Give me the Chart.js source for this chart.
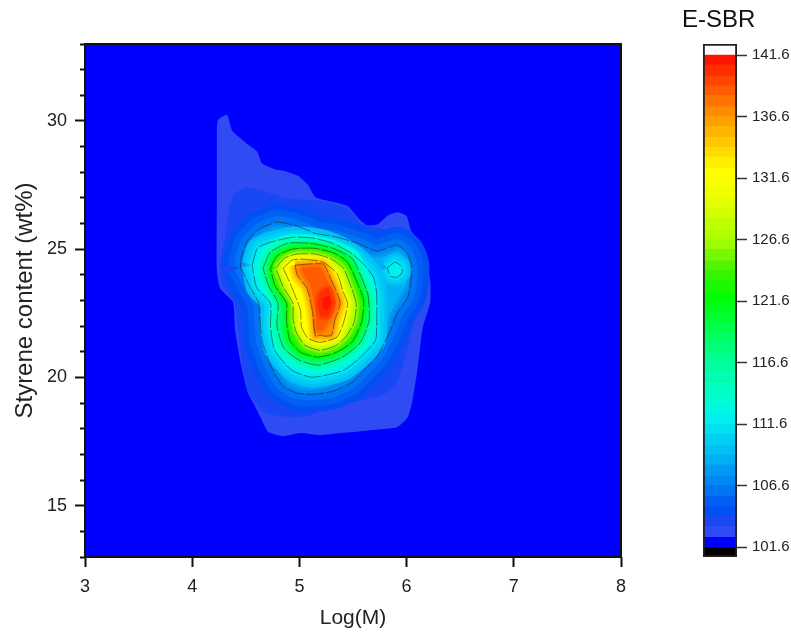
<!DOCTYPE html>
<html>
<head>
<meta charset="utf-8">
<title>E-SBR</title>
<script src="https://cdn.jsdelivr.net/npm/chart.js"></script>
<style>
    html, body { margin: 0; padding: 0; background: #fff; }
    #wrap { position: relative; width: 791px; height: 635px; overflow: hidden; }
    canvas { position: absolute; top: 0; }
    #main { left: 0; }
    #bar { left: 701px; }
    #barTitle { position: absolute; left: 682px; top: 5px; font: 24px "Liberation Sans", sans-serif; color: #111; }
</style>
</head>
<body>
<div id="wrap">
    <canvas id="main" width="791" height="635"></canvas>
    <canvas id="bar" width="90" height="635"></canvas>
    <div id="barTitle">E-SBR</div>
</div>
<script>
var xTicks = [3, 4, 5, 6, 7, 8];
var yTicks = [15, 20, 25, 30];
var yMinorTicks = [13, 14, 15, 16, 17, 18, 19, 20, 21, 22, 23, 24, 25, 26, 27, 28, 29, 30, 31, 32, 33];
var barTicks = [101.6, 106.6, 111.6, 116.6, 121.6, 126.6, 131.6, 136.6, 141.6];

// 色の段（カラーバーから読んだ値）
var bandLevels = [101.6, 102.4, 103.3, 104.1, 104.9, 105.8, 106.6, 107.4, 108.3, 109.1, 109.9, 110.8,
    111.6, 112.4, 113.3, 114.1, 114.9, 115.8, 116.6, 117.4, 118.3, 119.1, 119.9, 120.8,
    121.6, 122.4, 123.3, 124.1, 124.9, 125.8, 126.6, 127.4, 128.3, 129.1, 129.9, 130.8,
    131.6, 132.4, 133.3, 134.1, 134.9, 135.8, 136.6, 137.4, 138.3, 139.1, 139.9, 140.8, 141.6];
var bandColors = ["#0000ff", "#2f4bf4", "#1848f4", "#0050f4", "#0060f4", "#0074f4", "#0088f4", "#009cf4", "#00b0f4", "#00c0f4", "#00d0f4", "#00e0f2",
    "#00f0f0", "#00f8e0", "#00ffd0", "#00ffc0", "#00ffb0", "#00ffa0", "#00ff90", "#00ff78", "#00ff60", "#00ff48", "#00ff30", "#00ff18",
    "#00ff00", "#1cf800", "#38f400", "#54f400", "#78f800", "#9cfc00", "#b0ff00", "#c0ff00", "#d0ff00", "#e0ff00", "#f0ff00", "#f8ff00",
    "#ffff00", "#ffee00", "#ffdc00", "#ffc800", "#ffb400", "#ffa000", "#ff8c00", "#ff7400", "#ff5c00", "#ff4400", "#ff2c00", "#ff1400"];

// 等高線（x = Log(M), y = Styrene content）
var contour102 = [[4.23,29.72],[4.24,30.03],[4.29,30.19],[4.33,30.22],[4.37,29.64],[4.45,29.33],[4.54,29.02],[4.61,28.78],[4.65,28.35],[4.77,28.12],[4.87,28.04],[4.99,27.85],[5.08,27.50],[5.15,27.03],[5.33,26.83],[5.45,26.68],[5.55,26.21],[5.63,25.94],[5.73,25.97],[5.83,26.33],[5.92,26.44],[6.00,26.29],[6.04,25.74],[6.11,25.35],[6.17,24.77],[6.22,23.79],[6.22,22.93],[6.15,21.92],[6.10,20.28],[6.05,19.00],[6.01,18.45],[5.91,18.06],[5.75,17.98],[5.57,17.90],[5.38,17.83],[5.19,17.75],[5.01,17.83],[4.85,17.71],[4.71,17.87],[4.65,18.33],[4.57,19.00],[4.52,19.39],[4.46,20.40],[4.40,21.84],[4.38,22.93],[4.26,23.48],[4.23,24.18],[4.23,26.91]];
var contour103 = [[4.35,26.72],[4.39,27.11],[4.49,27.42],[4.70,27.22],[4.88,26.99],[5.15,26.91],[5.31,26.79],[5.47,26.52],[5.57,26.01],[5.66,25.90],[5.82,25.74],[6.06,25.55],[6.13,25.23],[6.16,24.18],[6.15,23.40],[6.11,23.01],[6.05,21.84],[5.99,20.87],[5.90,19.70],[5.75,19.27],[5.47,19.04],[5.26,18.84],[5.10,18.53],[4.91,18.45],[4.68,18.61],[4.59,19.00],[4.52,19.39],[4.47,20.40],[4.43,21.84],[4.39,22.93],[4.28,23.60],[4.26,24.38],[4.31,25.55]];
var contour106 = [[4.45,24.30],[4.46,24.69],[4.51,25.27],[4.61,25.74],[4.79,26.05],[4.98,25.90],[5.15,25.62],[5.35,25.47],[5.54,25.23],[5.72,24.92],[5.91,25.16],[6.00,24.88],[6.04,24.45],[6.04,23.79],[6.01,23.13],[5.91,22.50],[5.85,21.84],[5.72,20.79],[5.61,20.32],[5.49,19.81],[5.31,19.46],[5.13,19.35],[4.98,19.39],[4.84,19.70],[4.74,20.40],[4.65,21.45],[4.62,22.89],[4.54,23.52]];
var contour108 = [[4.50,24.34],[4.54,24.96],[4.65,25.51],[4.79,25.78],[4.98,25.66],[5.15,25.43],[5.35,25.31],[5.54,25.00],[5.68,24.65],[5.80,24.73],[5.92,24.92],[5.99,24.65],[6.00,24.18],[5.99,23.60],[5.91,23.01],[5.83,22.31],[5.80,21.84],[5.68,20.98],[5.47,20.20],[5.24,19.70],[5.05,19.62],[4.91,19.81],[4.79,20.59],[4.71,21.45],[4.68,22.89],[4.59,23.48]];
var contour111 = [[4.56,24.38],[4.61,25.04],[4.73,25.27],[4.94,25.47],[5.13,25.43],[5.31,25.23],[5.47,24.88],[5.59,24.45],[5.69,23.91],[5.72,23.28],[5.72,21.96],[5.71,21.45],[5.59,20.87],[5.41,20.28],[5.12,20.01],[4.93,20.28],[4.77,21.06],[4.73,21.96],[4.73,22.89],[4.60,23.52]];
var contour111b = [[5.82,24.26],[5.89,24.49],[5.95,24.34],[5.96,24.10],[5.91,23.91],[5.85,23.95]];
var contour116 = [[4.66,24.26],[4.73,24.88],[4.89,25.23],[5.10,25.23],[5.31,25.04],[5.49,24.65],[5.57,23.99],[5.64,23.21],[5.65,22.23],[5.57,21.37],[5.40,20.79],[5.17,20.48],[4.98,20.71],[4.85,21.18],[4.79,22.04],[4.80,22.89],[4.71,23.60]];
var contour121 = [[4.73,24.26],[4.79,24.73],[4.93,25.00],[5.13,25.04],[5.33,24.84],[5.45,24.49],[5.53,23.79],[5.60,23.01],[5.58,22.15],[5.49,21.37],[5.33,20.95],[5.17,20.79],[5.01,20.98],[4.91,21.45],[4.88,22.23],[4.88,22.89],[4.77,23.60]];
var contour126 = [[4.78,24.26],[4.86,24.65],[4.97,24.81],[5.15,24.81],[5.30,24.61],[5.41,24.26],[5.47,23.67],[5.53,22.89],[5.51,22.15],[5.43,21.57],[5.33,21.22],[5.19,21.06],[5.05,21.26],[4.97,21.77],[4.94,22.31],[4.94,22.89],[4.85,23.52]];
var contour131 = [[4.85,24.26],[4.93,24.57],[5.03,24.61],[5.22,24.49],[5.35,24.06],[5.41,23.32],[5.45,22.89],[5.41,22.11],[5.35,21.57],[5.19,21.37],[5.08,21.53],[5.02,21.96],[5.01,22.62],[4.94,23.40]];
var contour136 = [[4.96,24.38],[5.22,24.42],[5.29,23.87],[5.38,22.93],[5.33,22.23],[5.30,21.65],[5.23,21.61],[5.20,21.65],[5.15,21.61],[5.12,22.62],[5.07,23.48],[4.98,23.99]];
var contour138 = [[5.01,24.26],[5.19,24.30],[5.26,23.79],[5.34,22.93],[5.29,22.31],[5.21,21.84],[5.16,21.84],[5.15,22.70],[5.10,23.60]];
var contour139 = [[5.19,23.32],[5.27,23.48],[5.31,22.93],[5.27,22.39],[5.20,22.39],[5.17,22.89]];
var contour140 = [[5.22,23.09],[5.28,23.17],[5.29,22.89],[5.26,22.62],[5.22,22.70]];
var plotFrame = [[3,13],[8,13],[8,33],[3,33]];

function toPoints(list) {
    var pts = list.map(function (p) { return { x: p[0], y: p[1] }; });
    pts.push(pts[0]);
    return pts;
}

var datasets = [];

function addFill(list, band, width) {
    datasets.push({
        data: toPoints(list),
        showLine: true,
        pointRadius: 0,
        tension: 0.2,
        fill: 'shape',
        backgroundColor: bandColors[band],
        borderColor: bandColors[band],
        borderWidth: width,
        borderJoinStyle: 'round'
    });
}

// 下の段は線を太くして外側ににじませる
function addLevel(list, band, steps, gap) {
    for (var k = steps; k >= 1; k--) {
        addFill(list, band - k, 2 * k * gap);
    }
    addFill(list, band, 0);
}

addLevel(plotFrame, 0, 0, 0);
datasets[0].tension = 0;
addLevel(contour102, 1, 0, 0);
addLevel(contour103, 2, 0, 0);
addLevel(contour106, 6, 3, 6);
addLevel(contour108, 8, 1, 3);
addLevel(contour111b, 12, 3, 3);
addLevel(contour111, 12, 3, 3.5);
addLevel(contour116, 18, 5, 1.7);
addLevel(contour121, 24, 5, 1.4);
addLevel(contour126, 30, 5, 1.3);
addLevel(contour131, 36, 5, 1.3);
addLevel(contour136, 42, 5, 1.4);
addLevel(contour138, 44, 1, 3);
addLevel(contour139, 46, 1, 3);
addLevel(contour140, 47, 0, 0);

[contour106, contour111, contour111b, contour116, contour121, contour126, contour131, contour136].forEach(function (c) {
    datasets.push({
        data: toPoints(c),
        showLine: true,
        pointRadius: 0,
        tension: 0.2,
        fill: false,
        borderColor: 'rgba(25,25,25,0.65)',
        borderWidth: 0.8,
        borderDash: [18, 2]
    });
});
datasets.push({
    data: toPoints(plotFrame),
    showLine: true,
    pointRadius: 0,
    fill: false,
    clip: 3,
    borderColor: '#111',
    borderWidth: 2
});

// 先頭のデータセットが一番上に描かれるので順番を指定
datasets.forEach(function (d, i) { d.order = datasets.length - i; });

var axisFont = { family: '"Liberation Sans", sans-serif', size: 18 };
var titleFont = { family: '"Liberation Sans", sans-serif', size: 21 };

new Chart(document.querySelector("#main").getContext('2d'), {
    type: 'scatter',
    data: { datasets: datasets },
    options: {
        responsive: false,
        animation: false,
        events: [],
        layout: { padding: { top: 44, right: 170, left: 0, bottom: 0 } },
        plugins: { legend: { display: false }, tooltip: { enabled: false } },
        scales: {
            x: {
                type: 'linear',
                min: 3,
                max: 8,
                afterBuildTicks: function (axis) { axis.ticks = xTicks.map(function (v) { return { value: v }; }); },
                afterFit: function (axis) { axis.height = 78; },
                grid: { drawOnChartArea: false, tickLength: 10, tickWidth: 2, tickColor: '#111' },
                border: { display: false },
                ticks: { color: '#222', font: axisFont, padding: 9, maxRotation: 0 },
                title: { display: true, text: 'Log(M)', color: '#222', font: titleFont, padding: { top: 3 } }
            },
            y: {
                type: 'linear',
                position: 'left',
                weight: 1,
                min: 13,
                max: 33,
                afterBuildTicks: function (axis) { axis.ticks = yTicks.map(function (v) { return { value: v }; }); },
                afterFit: function (axis) { axis.width = 80; },
                grid: { drawOnChartArea: false, tickLength: 5, tickWidth: 2, tickColor: '#111' },
                border: { display: false },
                ticks: { color: '#222', font: axisFont, padding: 8 },
                title: { display: true, text: 'Styrene content (wt%)', color: '#222', font: { family: titleFont.family, size: 24 }, padding: { top: 11, bottom: 0 } }
            },
            yMinor: {
                type: 'linear',
                position: 'left',
                weight: 0,
                min: 13,
                max: 33,
                display: true,
                afterBuildTicks: function (axis) { axis.ticks = yMinorTicks.map(function (v) { return { value: v }; }); },
                grid: { drawOnChartArea: false, tickLength: 5, tickWidth: 2, tickColor: '#111' },
                border: { display: false },
                ticks: { display: false }
            }
        }
    }
});

// カラーバー
var barMin = 100.8;
var barMax = 142.5;
var barSets = [];
bandColors.forEach(function (c, i) {
    barSets.push({ data: [[bandLevels[i], bandLevels[i + 1]]], backgroundColor: c, borderWidth: 0 });
});
barSets.push({ data: [[barMin, bandLevels[0]]], backgroundColor: '#000', borderWidth: 0 });
barSets.push({ data: [[bandLevels[48], barMax]], backgroundColor: '#fff', borderWidth: 0 });
barSets.push({ data: [[barMin, barMax]], backgroundColor: 'rgba(0,0,0,0)', borderColor: '#222', borderWidth: 1.5, borderSkipped: false, order: -1 });

new Chart(document.querySelector("#bar").getContext('2d'), {
    type: 'bar',
    data: { labels: ['E-SBR'], datasets: barSets },
    options: {
        responsive: false,
        animation: false,
        events: [],
        grouped: false,
        barPercentage: 1,
        categoryPercentage: 1,
        layout: { padding: { top: 44, left: 2, right: 0, bottom: 78 } },
        plugins: { legend: { display: false }, tooltip: { enabled: false } },
        scales: {
            x: { display: false },
            y: {
                position: 'right',
                min: barMin,
                max: barMax,
                afterBuildTicks: function (axis) { axis.ticks = barTicks.map(function (v) { return { value: v }; }); },
                afterFit: function (axis) { axis.width = 54; },
                grid: { drawOnChartArea: false, tickLength: 10, tickWidth: 1.5, tickColor: '#333' },
                border: { display: false },
                ticks: {
                    color: '#222',
                    padding: 5,
                    font: { family: '"Liberation Sans", sans-serif', size: 15 },
                    callback: function (v) { return v.toFixed(1); }
                }
            }
        }
    }
});
</script>
</body>
</html>
